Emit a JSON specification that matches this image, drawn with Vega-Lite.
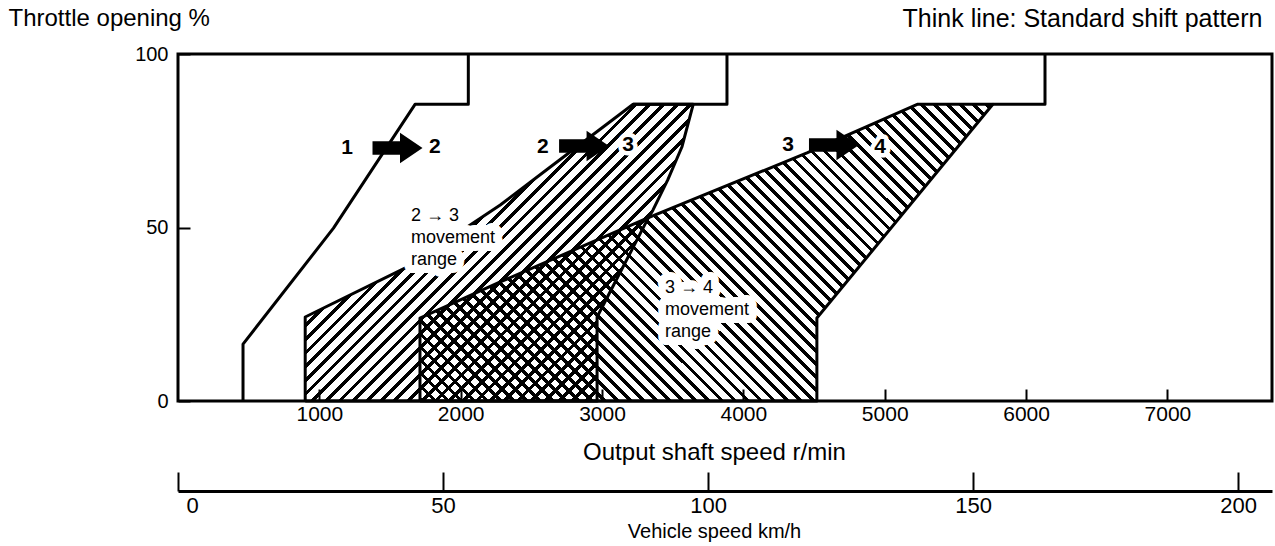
{
"$schema": "https://vega.github.io/schema/vega-lite/v6.json",
"width": 1094,
"height": 347,
"autosize": {"type": "none"},
"padding": {"left": 178, "top": 54, "right": 3, "bottom": 145},
"background": "white",
"config": {
  "font": "Liberation Sans",
  "view": {"stroke": "black", "strokeWidth": 3},
  "axis": {"labelColor": "black", "titleColor": "black", "tickColor": "black", "grid": false}
},
"datasets": {
  "r23": [
    {"i": 0, "rpm": 900, "thr": 0},
    {"i": 1, "rpm": 900, "thr": 24.2},
    {"i": 2, "rpm": 1620, "thr": 38.6},
    {"i": 3, "rpm": 2280, "thr": 56.5},
    {"i": 4, "rpm": 2620, "thr": 67},
    {"i": 5, "rpm": 3220, "thr": 85.5},
    {"i": 6, "rpm": 3645, "thr": 85.5},
    {"i": 7, "rpm": 3565, "thr": 73.2},
    {"i": 8, "rpm": 3465, "thr": 63.7},
    {"i": 9, "rpm": 3360, "thr": 55},
    {"i": 10, "rpm": 3320, "thr": 52.2},
    {"i": 11, "rpm": 3200, "thr": 42.7},
    {"i": 12, "rpm": 2965, "thr": 24.2},
    {"i": 13, "rpm": 2965, "thr": 0},
    {"i": 14, "rpm": 900, "thr": 0}
  ],
  "r34": [
    {"i": 0, "rpm": 1712, "thr": 0},
    {"i": 1, "rpm": 1712, "thr": 23.9},
    {"i": 2, "rpm": 2280, "thr": 34.3},
    {"i": 3, "rpm": 3320, "thr": 52.7},
    {"i": 4, "rpm": 4450, "thr": 71.5},
    {"i": 5, "rpm": 5230, "thr": 85.5},
    {"i": 6, "rpm": 5765, "thr": 85.5},
    {"i": 7, "rpm": 4520, "thr": 23.9},
    {"i": 8, "rpm": 4520, "thr": 0},
    {"i": 9, "rpm": 1712, "thr": 0}
  ],
  "std": [
    {"s": "1-2", "i": 0, "rpm": 460, "thr": 0},
    {"s": "1-2", "i": 1, "rpm": 460, "thr": 16.4},
    {"s": "1-2", "i": 2, "rpm": 1100, "thr": 49.8},
    {"s": "1-2", "i": 3, "rpm": 1677, "thr": 85.5},
    {"s": "1-2", "i": 4, "rpm": 2054, "thr": 85.5},
    {"s": "1-2", "i": 5, "rpm": 2054, "thr": 100},
    {"s": "2-3", "i": 0, "rpm": 3220, "thr": 85.5},
    {"s": "2-3", "i": 1, "rpm": 3884, "thr": 85.5},
    {"s": "2-3", "i": 2, "rpm": 3884, "thr": 100},
    {"s": "3-4", "i": 0, "rpm": 5765, "thr": 85.5},
    {"s": "3-4", "i": 1, "rpm": 6134, "thr": 85.5},
    {"s": "3-4", "i": 2, "rpm": 6134, "thr": 100}
  ],
  "notes": [
    {"note": "2 → 3\nmovement\nrange", "rpm": 1648, "thr": 55.9},
    {"note": "3 → 4\nmovement\nrange", "rpm": 3446, "thr": 35.2}
  ],
  "gears": [
    {"g": "1", "rpm": 1196, "thr": 72.9},
    {"g": "2", "rpm": 1818, "thr": 73.2},
    {"g": "2", "rpm": 2582, "thr": 73.2},
    {"g": "3", "rpm": 3184, "thr": 73.8},
    {"g": "3", "rpm": 4316, "thr": 73.8},
    {"g": "4", "rpm": 4967, "thr": 73.2}
  ],
  "arrows": [
    {"a": "1→2", "rpm": 1553, "thr": 72.9},
    {"a": "2→3", "rpm": 2873, "thr": 73.5},
    {"a": "3→4", "rpm": 4641, "thr": 73.8}
  ]
},
"layer": [
  {
    "data": {"name": "r23"},
    "mark": {"type": "line", "stroke": "black", "strokeWidth": 3, "strokeJoin": "round",
      "fill": {"gradient": "linear", "x1": 0, "y1": 0, "x2": 1.1136, "y2": 0.8515, "stops": [
{"offset":0,"color":"#000"},{"offset":0.007,"color":"#000"},{"offset":0.007,"color":"#0000"},{"offset":0.02,"color":"#0000"},
{"offset":0.02,"color":"#000"},{"offset":0.027,"color":"#000"},{"offset":0.027,"color":"#0000"},{"offset":0.04,"color":"#0000"},
{"offset":0.04,"color":"#000"},{"offset":0.047,"color":"#000"},{"offset":0.047,"color":"#0000"},{"offset":0.06,"color":"#0000"},
{"offset":0.06,"color":"#000"},{"offset":0.067,"color":"#000"},{"offset":0.067,"color":"#0000"},{"offset":0.08,"color":"#0000"},
{"offset":0.08,"color":"#000"},{"offset":0.087,"color":"#000"},{"offset":0.087,"color":"#0000"},{"offset":0.1,"color":"#0000"},
{"offset":0.1,"color":"#000"},{"offset":0.107,"color":"#000"},{"offset":0.107,"color":"#0000"},{"offset":0.12,"color":"#0000"},
{"offset":0.12,"color":"#000"},{"offset":0.127,"color":"#000"},{"offset":0.127,"color":"#0000"},{"offset":0.14,"color":"#0000"},
{"offset":0.14,"color":"#000"},{"offset":0.147,"color":"#000"},{"offset":0.147,"color":"#0000"},{"offset":0.16,"color":"#0000"},
{"offset":0.16,"color":"#000"},{"offset":0.167,"color":"#000"},{"offset":0.167,"color":"#0000"},{"offset":0.18,"color":"#0000"},
{"offset":0.18,"color":"#000"},{"offset":0.187,"color":"#000"},{"offset":0.187,"color":"#0000"},{"offset":0.2,"color":"#0000"},
{"offset":0.2,"color":"#000"},{"offset":0.207,"color":"#000"},{"offset":0.207,"color":"#0000"},{"offset":0.22,"color":"#0000"},
{"offset":0.22,"color":"#000"},{"offset":0.227,"color":"#000"},{"offset":0.227,"color":"#0000"},{"offset":0.24,"color":"#0000"},
{"offset":0.24,"color":"#000"},{"offset":0.247,"color":"#000"},{"offset":0.247,"color":"#0000"},{"offset":0.26,"color":"#0000"},
{"offset":0.26,"color":"#000"},{"offset":0.267,"color":"#000"},{"offset":0.267,"color":"#0000"},{"offset":0.28,"color":"#0000"},
{"offset":0.28,"color":"#000"},{"offset":0.287,"color":"#000"},{"offset":0.287,"color":"#0000"},{"offset":0.3,"color":"#0000"},
{"offset":0.3,"color":"#000"},{"offset":0.307,"color":"#000"},{"offset":0.307,"color":"#0000"},{"offset":0.32,"color":"#0000"},
{"offset":0.32,"color":"#000"},{"offset":0.327,"color":"#000"},{"offset":0.327,"color":"#0000"},{"offset":0.34,"color":"#0000"},
{"offset":0.34,"color":"#000"},{"offset":0.347,"color":"#000"},{"offset":0.347,"color":"#0000"},{"offset":0.36,"color":"#0000"},
{"offset":0.36,"color":"#000"},{"offset":0.367,"color":"#000"},{"offset":0.367,"color":"#0000"},{"offset":0.38,"color":"#0000"},
{"offset":0.38,"color":"#000"},{"offset":0.387,"color":"#000"},{"offset":0.387,"color":"#0000"},{"offset":0.4,"color":"#0000"},
{"offset":0.4,"color":"#000"},{"offset":0.407,"color":"#000"},{"offset":0.407,"color":"#0000"},{"offset":0.42,"color":"#0000"},
{"offset":0.42,"color":"#000"},{"offset":0.427,"color":"#000"},{"offset":0.427,"color":"#0000"},{"offset":0.44,"color":"#0000"},
{"offset":0.44,"color":"#000"},{"offset":0.447,"color":"#000"},{"offset":0.447,"color":"#0000"},{"offset":0.46,"color":"#0000"},
{"offset":0.46,"color":"#000"},{"offset":0.467,"color":"#000"},{"offset":0.467,"color":"#0000"},{"offset":0.48,"color":"#0000"},
{"offset":0.48,"color":"#000"},{"offset":0.487,"color":"#000"},{"offset":0.487,"color":"#0000"},{"offset":0.5,"color":"#0000"},
{"offset":0.5,"color":"#000"},{"offset":0.507,"color":"#000"},{"offset":0.507,"color":"#0000"},{"offset":0.52,"color":"#0000"},
{"offset":0.52,"color":"#000"},{"offset":0.527,"color":"#000"},{"offset":0.527,"color":"#0000"},{"offset":0.54,"color":"#0000"},
{"offset":0.54,"color":"#000"},{"offset":0.547,"color":"#000"},{"offset":0.547,"color":"#0000"},{"offset":0.56,"color":"#0000"},
{"offset":0.56,"color":"#000"},{"offset":0.567,"color":"#000"},{"offset":0.567,"color":"#0000"},{"offset":0.58,"color":"#0000"},
{"offset":0.58,"color":"#000"},{"offset":0.587,"color":"#000"},{"offset":0.587,"color":"#0000"},{"offset":0.6,"color":"#0000"},
{"offset":0.6,"color":"#000"},{"offset":0.607,"color":"#000"},{"offset":0.607,"color":"#0000"},{"offset":0.62,"color":"#0000"},
{"offset":0.62,"color":"#000"},{"offset":0.627,"color":"#000"},{"offset":0.627,"color":"#0000"},{"offset":0.64,"color":"#0000"},
{"offset":0.64,"color":"#000"},{"offset":0.647,"color":"#000"},{"offset":0.647,"color":"#0000"},{"offset":0.66,"color":"#0000"},
{"offset":0.66,"color":"#000"},{"offset":0.667,"color":"#000"},{"offset":0.667,"color":"#0000"},{"offset":0.68,"color":"#0000"},
{"offset":0.68,"color":"#000"},{"offset":0.687,"color":"#000"},{"offset":0.687,"color":"#0000"},{"offset":0.7,"color":"#0000"},
{"offset":0.7,"color":"#000"},{"offset":0.707,"color":"#000"},{"offset":0.707,"color":"#0000"},{"offset":0.72,"color":"#0000"},
{"offset":0.72,"color":"#000"},{"offset":0.727,"color":"#000"},{"offset":0.727,"color":"#0000"},{"offset":0.74,"color":"#0000"},
{"offset":0.74,"color":"#000"},{"offset":0.747,"color":"#000"},{"offset":0.747,"color":"#0000"},{"offset":0.76,"color":"#0000"},
{"offset":0.76,"color":"#000"},{"offset":0.767,"color":"#000"},{"offset":0.767,"color":"#0000"},{"offset":0.78,"color":"#0000"},
{"offset":0.78,"color":"#000"},{"offset":0.787,"color":"#000"},{"offset":0.787,"color":"#0000"},{"offset":0.8,"color":"#0000"},
{"offset":0.8,"color":"#000"},{"offset":0.807,"color":"#000"},{"offset":0.807,"color":"#0000"},{"offset":0.82,"color":"#0000"},
{"offset":0.82,"color":"#000"},{"offset":0.827,"color":"#000"},{"offset":0.827,"color":"#0000"},{"offset":0.84,"color":"#0000"},
{"offset":0.84,"color":"#000"},{"offset":0.847,"color":"#000"},{"offset":0.847,"color":"#0000"},{"offset":0.86,"color":"#0000"},
{"offset":0.86,"color":"#000"},{"offset":0.867,"color":"#000"},{"offset":0.867,"color":"#0000"},{"offset":0.88,"color":"#0000"},
{"offset":0.88,"color":"#000"},{"offset":0.887,"color":"#000"},{"offset":0.887,"color":"#0000"},{"offset":0.9,"color":"#0000"},
{"offset":0.9,"color":"#000"},{"offset":0.907,"color":"#000"},{"offset":0.907,"color":"#0000"},{"offset":0.92,"color":"#0000"},
{"offset":0.92,"color":"#000"},{"offset":0.927,"color":"#000"},{"offset":0.927,"color":"#0000"},{"offset":0.94,"color":"#0000"},
{"offset":0.94,"color":"#000"},{"offset":0.947,"color":"#000"},{"offset":0.947,"color":"#0000"},{"offset":0.96,"color":"#0000"},
{"offset":0.96,"color":"#000"},{"offset":0.967,"color":"#000"},{"offset":0.967,"color":"#0000"},{"offset":0.98,"color":"#0000"},
{"offset":0.98,"color":"#000"},{"offset":0.987,"color":"#000"},{"offset":0.987,"color":"#0000"},{"offset":1,"color":"#0000"}
      ]}},
    "encoding": {
      "x": {"field": "rpm", "type": "quantitative", "scale": {"domain": [0, 7740], "nice": false, "zero": false},
        "axis": {"orient": "bottom", "values": [1000, 2000, 3000, 4000, 5000, 6000, 7000], "format": "d", "domain": false,
          "tickSize": -12, "tickWidth": 2, "labelPadding": 14, "labelFontSize": 21,
          "title": "Output shaft speed r/min", "titleFontSize": 24, "titleFontWeight": "normal",
          "titleX": 536, "titleY": 51, "titleAlign": "center", "titleBaseline": "middle"}},
      "y": {"field": "thr", "type": "quantitative", "scale": {"domain": [0, 100], "nice": false},
        "axis": {"orient": "left", "values": [0, 50, 100], "domain": false, "tickSize": -12, "tickWidth": 2,
          "labelPadding": 22, "labelFontSize": 20,
          "title": "Throttle opening %", "titleAngle": 0, "titleAlign": "left", "titleBaseline": "middle",
          "titleX": -170, "titleY": -36, "titleFontSize": 24, "titleFontWeight": "normal"}},
      "order": {"field": "i", "type": "quantitative"}
    }
  },
  {
    "data": {"name": "r34"},
    "mark": {"type": "line", "stroke": "black", "strokeWidth": 3, "strokeJoin": "round",
      "fill": {"gradient": "linear", "x1": 0, "y1": 1, "x2": 1.1969, "y2": 0.38, "stops": [
{"offset":0,"color":"#000"},{"offset":0.0055,"color":"#000"},{"offset":0.0055,"color":"#0000"},{"offset":0.015,"color":"#0000"},
{"offset":0.015,"color":"#000"},{"offset":0.0205,"color":"#000"},{"offset":0.0205,"color":"#0000"},{"offset":0.03,"color":"#0000"},
{"offset":0.03,"color":"#000"},{"offset":0.0355,"color":"#000"},{"offset":0.0355,"color":"#0000"},{"offset":0.045,"color":"#0000"},
{"offset":0.045,"color":"#000"},{"offset":0.0505,"color":"#000"},{"offset":0.0505,"color":"#0000"},{"offset":0.06,"color":"#0000"},
{"offset":0.06,"color":"#000"},{"offset":0.0655,"color":"#000"},{"offset":0.0655,"color":"#0000"},{"offset":0.075,"color":"#0000"},
{"offset":0.075,"color":"#000"},{"offset":0.0805,"color":"#000"},{"offset":0.0805,"color":"#0000"},{"offset":0.09,"color":"#0000"},
{"offset":0.09,"color":"#000"},{"offset":0.0955,"color":"#000"},{"offset":0.0955,"color":"#0000"},{"offset":0.105,"color":"#0000"},
{"offset":0.105,"color":"#000"},{"offset":0.1105,"color":"#000"},{"offset":0.1105,"color":"#0000"},{"offset":0.12,"color":"#0000"},
{"offset":0.12,"color":"#000"},{"offset":0.1255,"color":"#000"},{"offset":0.1255,"color":"#0000"},{"offset":0.135,"color":"#0000"},
{"offset":0.135,"color":"#000"},{"offset":0.1405,"color":"#000"},{"offset":0.1405,"color":"#0000"},{"offset":0.15,"color":"#0000"},
{"offset":0.15,"color":"#000"},{"offset":0.1555,"color":"#000"},{"offset":0.1555,"color":"#0000"},{"offset":0.165,"color":"#0000"},
{"offset":0.165,"color":"#000"},{"offset":0.1705,"color":"#000"},{"offset":0.1705,"color":"#0000"},{"offset":0.18,"color":"#0000"},
{"offset":0.18,"color":"#000"},{"offset":0.1855,"color":"#000"},{"offset":0.1855,"color":"#0000"},{"offset":0.195,"color":"#0000"},
{"offset":0.195,"color":"#000"},{"offset":0.2005,"color":"#000"},{"offset":0.2005,"color":"#0000"},{"offset":0.21,"color":"#0000"},
{"offset":0.21,"color":"#000"},{"offset":0.2155,"color":"#000"},{"offset":0.2155,"color":"#0000"},{"offset":0.225,"color":"#0000"},
{"offset":0.225,"color":"#000"},{"offset":0.2305,"color":"#000"},{"offset":0.2305,"color":"#0000"},{"offset":0.24,"color":"#0000"},
{"offset":0.24,"color":"#000"},{"offset":0.2455,"color":"#000"},{"offset":0.2455,"color":"#0000"},{"offset":0.255,"color":"#0000"},
{"offset":0.255,"color":"#000"},{"offset":0.2605,"color":"#000"},{"offset":0.2605,"color":"#0000"},{"offset":0.27,"color":"#0000"},
{"offset":0.27,"color":"#000"},{"offset":0.2755,"color":"#000"},{"offset":0.2755,"color":"#0000"},{"offset":0.285,"color":"#0000"},
{"offset":0.285,"color":"#000"},{"offset":0.2905,"color":"#000"},{"offset":0.2905,"color":"#0000"},{"offset":0.3,"color":"#0000"},
{"offset":0.3,"color":"#000"},{"offset":0.3055,"color":"#000"},{"offset":0.3055,"color":"#0000"},{"offset":0.315,"color":"#0000"},
{"offset":0.315,"color":"#000"},{"offset":0.3205,"color":"#000"},{"offset":0.3205,"color":"#0000"},{"offset":0.33,"color":"#0000"},
{"offset":0.33,"color":"#000"},{"offset":0.3355,"color":"#000"},{"offset":0.3355,"color":"#0000"},{"offset":0.345,"color":"#0000"},
{"offset":0.345,"color":"#000"},{"offset":0.3505,"color":"#000"},{"offset":0.3505,"color":"#0000"},{"offset":0.36,"color":"#0000"},
{"offset":0.36,"color":"#000"},{"offset":0.3655,"color":"#000"},{"offset":0.3655,"color":"#0000"},{"offset":0.375,"color":"#0000"},
{"offset":0.375,"color":"#000"},{"offset":0.3805,"color":"#000"},{"offset":0.3805,"color":"#0000"},{"offset":0.39,"color":"#0000"},
{"offset":0.39,"color":"#000"},{"offset":0.3955,"color":"#000"},{"offset":0.3955,"color":"#0000"},{"offset":0.405,"color":"#0000"},
{"offset":0.405,"color":"#000"},{"offset":0.4105,"color":"#000"},{"offset":0.4105,"color":"#0000"},{"offset":0.42,"color":"#0000"},
{"offset":0.42,"color":"#000"},{"offset":0.4255,"color":"#000"},{"offset":0.4255,"color":"#0000"},{"offset":0.435,"color":"#0000"},
{"offset":0.435,"color":"#000"},{"offset":0.4405,"color":"#000"},{"offset":0.4405,"color":"#0000"},{"offset":0.45,"color":"#0000"},
{"offset":0.45,"color":"#000"},{"offset":0.4555,"color":"#000"},{"offset":0.4555,"color":"#0000"},{"offset":0.465,"color":"#0000"},
{"offset":0.465,"color":"#000"},{"offset":0.4705,"color":"#000"},{"offset":0.4705,"color":"#0000"},{"offset":0.48,"color":"#0000"},
{"offset":0.48,"color":"#000"},{"offset":0.4855,"color":"#000"},{"offset":0.4855,"color":"#0000"},{"offset":0.495,"color":"#0000"},
{"offset":0.495,"color":"#000"},{"offset":0.5005,"color":"#000"},{"offset":0.5005,"color":"#0000"},{"offset":0.51,"color":"#0000"},
{"offset":0.51,"color":"#000"},{"offset":0.5155,"color":"#000"},{"offset":0.5155,"color":"#0000"},{"offset":0.525,"color":"#0000"},
{"offset":0.525,"color":"#000"},{"offset":0.5305,"color":"#000"},{"offset":0.5305,"color":"#0000"},{"offset":0.54,"color":"#0000"},
{"offset":0.54,"color":"#000"},{"offset":0.5455,"color":"#000"},{"offset":0.5455,"color":"#0000"},{"offset":0.555,"color":"#0000"},
{"offset":0.555,"color":"#000"},{"offset":0.5605,"color":"#000"},{"offset":0.5605,"color":"#0000"},{"offset":0.57,"color":"#0000"},
{"offset":0.57,"color":"#000"},{"offset":0.5755,"color":"#000"},{"offset":0.5755,"color":"#0000"},{"offset":0.585,"color":"#0000"},
{"offset":0.585,"color":"#000"},{"offset":0.5905,"color":"#000"},{"offset":0.5905,"color":"#0000"},{"offset":0.6,"color":"#0000"},
{"offset":0.6,"color":"#000"},{"offset":0.6055,"color":"#000"},{"offset":0.6055,"color":"#0000"},{"offset":0.615,"color":"#0000"},
{"offset":0.615,"color":"#000"},{"offset":0.6205,"color":"#000"},{"offset":0.6205,"color":"#0000"},{"offset":0.63,"color":"#0000"},
{"offset":0.63,"color":"#000"},{"offset":0.6355,"color":"#000"},{"offset":0.6355,"color":"#0000"},{"offset":0.645,"color":"#0000"},
{"offset":0.645,"color":"#000"},{"offset":0.6505,"color":"#000"},{"offset":0.6505,"color":"#0000"},{"offset":0.66,"color":"#0000"},
{"offset":0.66,"color":"#000"},{"offset":0.6655,"color":"#000"},{"offset":0.6655,"color":"#0000"},{"offset":0.675,"color":"#0000"},
{"offset":0.675,"color":"#000"},{"offset":0.6805,"color":"#000"},{"offset":0.6805,"color":"#0000"},{"offset":0.69,"color":"#0000"},
{"offset":0.69,"color":"#000"},{"offset":0.6955,"color":"#000"},{"offset":0.6955,"color":"#0000"},{"offset":0.705,"color":"#0000"},
{"offset":0.705,"color":"#000"},{"offset":0.7105,"color":"#000"},{"offset":0.7105,"color":"#0000"},{"offset":0.72,"color":"#0000"},
{"offset":0.72,"color":"#000"},{"offset":0.7255,"color":"#000"},{"offset":0.7255,"color":"#0000"},{"offset":0.735,"color":"#0000"},
{"offset":0.735,"color":"#000"},{"offset":0.7405,"color":"#000"},{"offset":0.7405,"color":"#0000"},{"offset":0.75,"color":"#0000"},
{"offset":0.75,"color":"#000"},{"offset":0.7555,"color":"#000"},{"offset":0.7555,"color":"#0000"},{"offset":0.765,"color":"#0000"},
{"offset":0.765,"color":"#000"},{"offset":0.7705,"color":"#000"},{"offset":0.7705,"color":"#0000"},{"offset":0.78,"color":"#0000"},
{"offset":0.78,"color":"#000"},{"offset":0.7855,"color":"#000"},{"offset":0.7855,"color":"#0000"},{"offset":0.795,"color":"#0000"},
{"offset":0.795,"color":"#000"},{"offset":0.8005,"color":"#000"},{"offset":0.8005,"color":"#0000"},{"offset":0.81,"color":"#0000"},
{"offset":0.81,"color":"#000"},{"offset":0.8155,"color":"#000"},{"offset":0.8155,"color":"#0000"},{"offset":0.825,"color":"#0000"},
{"offset":0.825,"color":"#000"},{"offset":0.8305,"color":"#000"},{"offset":0.8305,"color":"#0000"},{"offset":0.84,"color":"#0000"},
{"offset":0.84,"color":"#000"},{"offset":0.8455,"color":"#000"},{"offset":0.8455,"color":"#0000"},{"offset":0.855,"color":"#0000"},
{"offset":0.855,"color":"#000"},{"offset":0.8605,"color":"#000"},{"offset":0.8605,"color":"#0000"},{"offset":0.87,"color":"#0000"},
{"offset":0.87,"color":"#000"},{"offset":0.8755,"color":"#000"},{"offset":0.8755,"color":"#0000"},{"offset":0.885,"color":"#0000"},
{"offset":0.885,"color":"#000"},{"offset":0.8905,"color":"#000"},{"offset":0.8905,"color":"#0000"},{"offset":0.9,"color":"#0000"},
{"offset":0.9,"color":"#000"},{"offset":0.9055,"color":"#000"},{"offset":0.9055,"color":"#0000"},{"offset":0.915,"color":"#0000"},
{"offset":0.915,"color":"#000"},{"offset":0.9205,"color":"#000"},{"offset":0.9205,"color":"#0000"},{"offset":0.93,"color":"#0000"},
{"offset":0.93,"color":"#000"},{"offset":0.9355,"color":"#000"},{"offset":0.9355,"color":"#0000"},{"offset":0.945,"color":"#0000"},
{"offset":0.945,"color":"#000"},{"offset":0.9505,"color":"#000"},{"offset":0.9505,"color":"#0000"},{"offset":0.96,"color":"#0000"},
{"offset":0.96,"color":"#000"},{"offset":0.9655,"color":"#000"},{"offset":0.9655,"color":"#0000"},{"offset":0.975,"color":"#0000"},
{"offset":0.975,"color":"#000"},{"offset":0.9805,"color":"#000"},{"offset":0.9805,"color":"#0000"},{"offset":0.99,"color":"#0000"},
{"offset":0.99,"color":"#000"},{"offset":0.9955,"color":"#000"},{"offset":0.9955,"color":"#0000"},{"offset":1,"color":"#0000"}
      ]}},
    "encoding": {
      "x": {"field": "rpm", "type": "quantitative",
        "axis": {"orient": "bottom", "offset": 90, "values": [0, 1875, 3750, 5625, 7500],
          "labelExpr": "datum.value === 0 ? '0' : datum.value === 1875 ? '50' : datum.value === 3750 ? '100' : datum.value === 5625 ? '150' : '200'",
          "domain": true, "domainColor": "black", "domainWidth": 3, "tickSize": -19, "tickWidth": 2,
          "labelPadding": 23, "labelFontSize": 22, "labelFlush": 1, "labelFlushOffset": -8,
          "title": "Vehicle speed km/h", "titleFontSize": 20, "titleFontWeight": "normal",
          "titleX": 536, "titleY": 40, "titleAlign": "center", "titleBaseline": "middle"}},
      "y": {"field": "thr", "type": "quantitative",
        "axis": {"orient": "right", "domain": false, "ticks": false, "labels": false,
          "title": "Think line: Standard shift pattern", "titleAngle": 0, "titleAlign": "right", "titleBaseline": "middle",
          "titleX": -10, "titleY": -36, "titleFontSize": 25, "titleFontWeight": "normal"}},
      "order": {"field": "i", "type": "quantitative"}
    }
  },
  {
    "data": {"name": "std"},
    "mark": {"type": "line", "stroke": "black", "strokeWidth": 3, "strokeJoin": "round"},
    "encoding": {
      "x": {"field": "rpm", "type": "quantitative", "axis": null},
      "y": {"field": "thr", "type": "quantitative", "axis": null},
      "detail": {"field": "s"},
      "order": {"field": "i", "type": "quantitative"}
    }
  },
  {
    "data": {"name": "notes"},
    "mark": {"type": "text", "align": "left", "baseline": "top", "fontSize": 18, "lineHeight": 22, "lineBreak": "\n",
      "color": "white", "stroke": "white", "strokeWidth": 16, "strokeJoin": "round"},
    "encoding": {
      "x": {"field": "rpm", "type": "quantitative", "axis": null},
      "y": {"field": "thr", "type": "quantitative", "axis": null},
      "text": {"field": "note"}
    }
  },
  {
    "data": {"name": "notes"},
    "mark": {"type": "text", "align": "left", "baseline": "top", "fontSize": 18, "lineHeight": 22, "lineBreak": "\n", "color": "black"},
    "encoding": {
      "x": {"field": "rpm", "type": "quantitative", "axis": null},
      "y": {"field": "thr", "type": "quantitative", "axis": null},
      "text": {"field": "note"}
    }
  },
  {
    "data": {"name": "gears"},
    "mark": {"type": "text", "align": "center", "baseline": "middle", "fontSize": 21, "fontWeight": "bold",
      "color": "white", "stroke": "white", "strokeWidth": 9, "strokeJoin": "round"},
    "encoding": {
      "x": {"field": "rpm", "type": "quantitative", "axis": null},
      "y": {"field": "thr", "type": "quantitative", "axis": null},
      "text": {"field": "g"}
    }
  },
  {
    "data": {"name": "gears"},
    "mark": {"type": "text", "align": "center", "baseline": "middle", "fontSize": 21, "fontWeight": "bold", "color": "black"},
    "encoding": {
      "x": {"field": "rpm", "type": "quantitative", "axis": null},
      "y": {"field": "thr", "type": "quantitative", "axis": null},
      "text": {"field": "g"}
    }
  },
  {
    "data": {"name": "arrows"},
    "mark": {"type": "point", "filled": true, "color": "black", "opacity": 1, "size": 2500,
      "shape": "M-1,-0.27L0.1,-0.27L0.1,-0.61L1,0L0.1,0.61L0.1,0.27L-1,0.27Z"},
    "encoding": {
      "x": {"field": "rpm", "type": "quantitative", "axis": null},
      "y": {"field": "thr", "type": "quantitative", "axis": null}
    }
  }
],
"resolve": {"axis": {"x": "independent", "y": "independent"}}
}
